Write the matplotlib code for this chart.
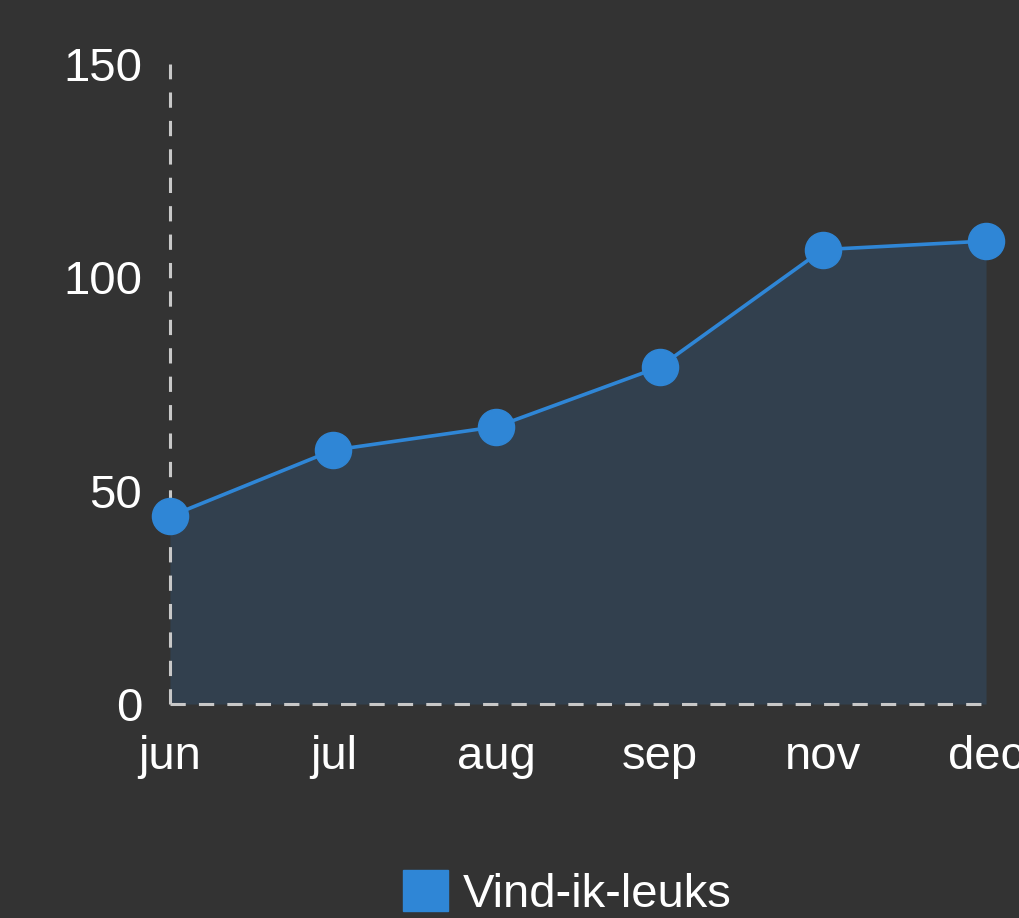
import matplotlib
matplotlib.use("Agg")
import matplotlib.pyplot as plt
from matplotlib.patches import Patch

# data
months = ["jun", "jul", "aug", "sep", "nov", "dec"]
likes = [44, 59.5, 65, 79, 106.5, 108.5]
y_ticks = [0, 50, 100, 150]
series_name = "Vind-ik-leuks"

bg = "#333333"
blue = "#2f86d6"
axis_col = "#c8c8c8"

plt.rcParams["font.family"] = ["Liberation Sans", "DejaVu Sans"]

fig = plt.figure(figsize=(10.19, 9.18), dpi=100, facecolor=bg)
ax = fig.add_axes([170 / 1019, 214 / 918, 816 / 1019, 640 / 918])
ax.set_facecolor("none")

x = list(range(len(months)))
ax.fill_between(x, likes, 0, color=blue, alpha=0.17, linewidth=0)
ax.plot(x, likes, color=blue, lw=2.6, marker="o", ms=26, mec=blue, mfc=blue,
        clip_on=False, zorder=3)

ax.set_xlim(0, len(months) - 1)
ax.set_ylim(0, 150)
ax.set_xticks(x)
ax.set_xticklabels(months)
ax.set_yticks(y_ticks)

for side in ["top", "right"]:
    ax.spines[side].set_visible(False)
for side in ["left", "bottom"]:
    ax.spines[side].set_color(axis_col)
    ax.spines[side].set_linewidth(2.2)
    ax.spines[side].set_linestyle((0, (5, 4.3)))
    ax.spines[side].set_capstyle("butt")

ax.tick_params(axis="both", length=0, labelsize=34, colors="white")
ax.tick_params(axis="x", pad=22)
ax.tick_params(axis="y", pad=20)

leg = fig.legend(handles=[Patch(color=blue, label=series_name)], loc="center",
                 bbox_to_anchor=(0.557, 0.027), frameon=False, fontsize=34,
                 handlelength=0.95, handleheight=0.95, handletextpad=0.32,
                 labelcolor="white")

fig.savefig("out.png", dpi=100, facecolor=bg)
